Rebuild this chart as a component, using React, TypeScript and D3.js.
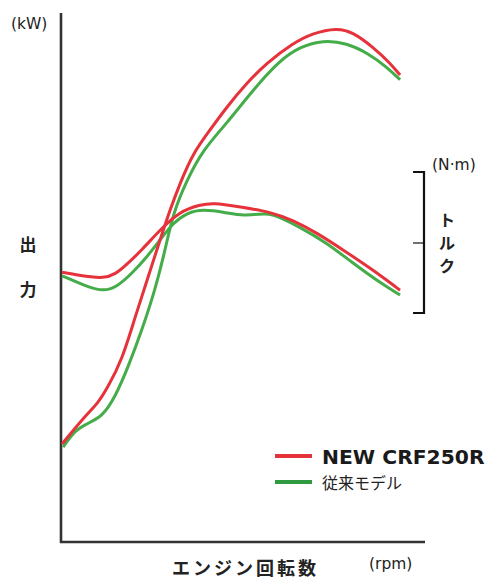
import React from "react";
import * as d3 from "d3";

// x: engine speed (relative units 0–100), y: relative units 0–100
const newPowerX = [0.3, 3.9, 7.4, 10.2, 12.9, 16.8, 20.4, 24.0, 27.3, 30.0, 32.8, 36.4, 41.0, 45.7, 51.2, 56.7, 63.9, 69.4, 76.0, 80.4, 85.9, 90.6, 93.4];
const newPowerY = [18.7, 21.7, 24.5, 26.4, 29.4, 34.5, 42.6, 50.2, 57.2, 62.8, 67.9, 73.6, 77.9, 82.3, 86.8, 90.6, 94.3, 96.2, 97.2, 96.4, 93.6, 90.6, 88.3];

const oldPowerX = [0.6, 3.9, 7.4, 11.3, 14.9, 18.5, 22.3, 25.9, 28.7, 30.9, 34.7, 39.1, 45.7, 52.9, 60.3, 65.8, 72.2, 78.8, 84.3, 89.8, 93.4];
const oldPowerY = [18.1, 21.3, 22.6, 23.8, 27.5, 33.2, 40.2, 47.7, 55.3, 62.3, 68.5, 74.2, 79.2, 85.5, 91.1, 93.6, 94.9, 94.3, 92.5, 89.8, 87.4];

const newTorqueX = [0.3, 7.4, 11.6, 14.9, 18.5, 22.3, 27.3, 32.8, 38.3, 41.9, 49.3, 57.6, 63.9, 70.5, 77.7, 86.0, 93.4];
const newTorqueY = [51.1, 50.2, 50.0, 50.6, 52.8, 55.3, 59.1, 62.6, 63.8, 64.2, 63.4, 62.5, 60.9, 58.5, 55.3, 51.5, 47.7];

const oldTorqueX = [0.3, 7.4, 11.6, 15.4, 19.6, 23.7, 27.3, 30.9, 34.7, 39.1, 45.7, 50.1, 56.7, 60.3, 65.8, 73.3, 80.4, 87.9, 93.4];
const oldTorqueY = [50.4, 48.3, 47.5, 48.3, 50.9, 54.0, 57.2, 60.4, 62.3, 63.0, 62.3, 61.7, 62.3, 61.5, 59.6, 56.6, 52.8, 49.1, 46.8];

const legendLabels = ["NEW CRF250R", "従来モデル"];
const torqueChars = ["ト", "ル", "ク"];

const RED = "#e5323b";
const GREEN = "#45ac4a";
const AXIS = "#333333";

const x = d3.scaleLinear().domain([0, 100]).range([61, 424]);
const y = d3.scaleLinear().domain([0, 100]).range([543, 13]);

const line = d3
  .line<[number, number]>()
  .x((d) => x(d[0]))
  .y((d) => y(d[1]))
  .curve(d3.curveBasis);

const zip = (a: number[], b: number[]) => a.map((v, i) => [v, b[i]] as [number, number]);

export default function App() {
  const jp = "'Noto Sans CJK JP', 'DejaVu Sans', sans-serif";
  const latin = "'DejaVu Sans', sans-serif";
  const series = [
    { d: zip(oldTorqueX, oldTorqueY), c: GREEN },
    { d: zip(oldPowerX, oldPowerY), c: GREEN },
    { d: zip(newTorqueX, newTorqueY), c: RED },
    { d: zip(newPowerX, newPowerY), c: RED },
  ];
  return (
    <svg
      width={487}
      height={583}
      style={{ position: "absolute", left: 0, top: 0, background: "#fff" }}
    >
      {/* axes */}
      <line x1={61} y1={13} x2={61} y2={543} stroke={AXIS} strokeWidth={2.6} />
      <line x1={60} y1={542} x2={425} y2={542} stroke={AXIS} strokeWidth={2.6} />

      {/* curves */}
      {series.map((s, i) => (
        <path key={i} d={line(s.d) || ""} fill="none" stroke={s.c} strokeWidth={3} strokeLinecap="butt" />
      ))}

      {/* torque bracket */}
      <path d="M413,172 H424 V313 H413" fill="none" stroke="#111" strokeWidth={2.2} />
      <line x1={413} y1={243} x2={424} y2={243} stroke="#111" strokeWidth={1.2} />

      {/* text */}
      <text x={11} y={29} fontFamily={latin} fontSize={15.5} fill="#222">(kW)</text>
      <text x={28} y={251} fontFamily={jp} fontWeight={700} fontSize={17} fill="#222" textAnchor="middle">出</text>
      <text x={28} y={296} fontFamily={jp} fontWeight={700} fontSize={17} fill="#222" textAnchor="middle">力</text>

      <text x={432} y={170} fontFamily={latin} fontSize={15.5} fill="#222">(N·m)</text>
      <text x={447} y={226} fontFamily={jp} fontWeight={700} fontSize={16} fill="#222" textAnchor="middle">
        {torqueChars.map((c, i) => (
          <tspan key={c} x={447} dy={i === 0 ? 0 : 23}>{c}</tspan>
        ))}
      </text>

      <text x={172} y={575} fontFamily={jp} fontWeight={700} fontSize={18} letterSpacing={3} fill="#222">エンジン回転数</text>
      <text x={369} y={569} fontFamily={latin} fontSize={15.5} fill="#222">(rpm)</text>

      {/* legend */}
      <line x1={275} y1={456} x2={312} y2={456} stroke={RED} strokeWidth={4} />
      <line x1={275} y1={482} x2={312} y2={482} stroke="#2f9a3f" strokeWidth={4} />
      <text x={322} y={464} fontFamily={latin} fontWeight={700} fontSize={20.3} fill="#1a1a1a">{legendLabels[0]}</text>
      <text x={322} y={489} fontFamily={jp} fontSize={16} fill="#222">{legendLabels[1]}</text>
    </svg>
  );
}
